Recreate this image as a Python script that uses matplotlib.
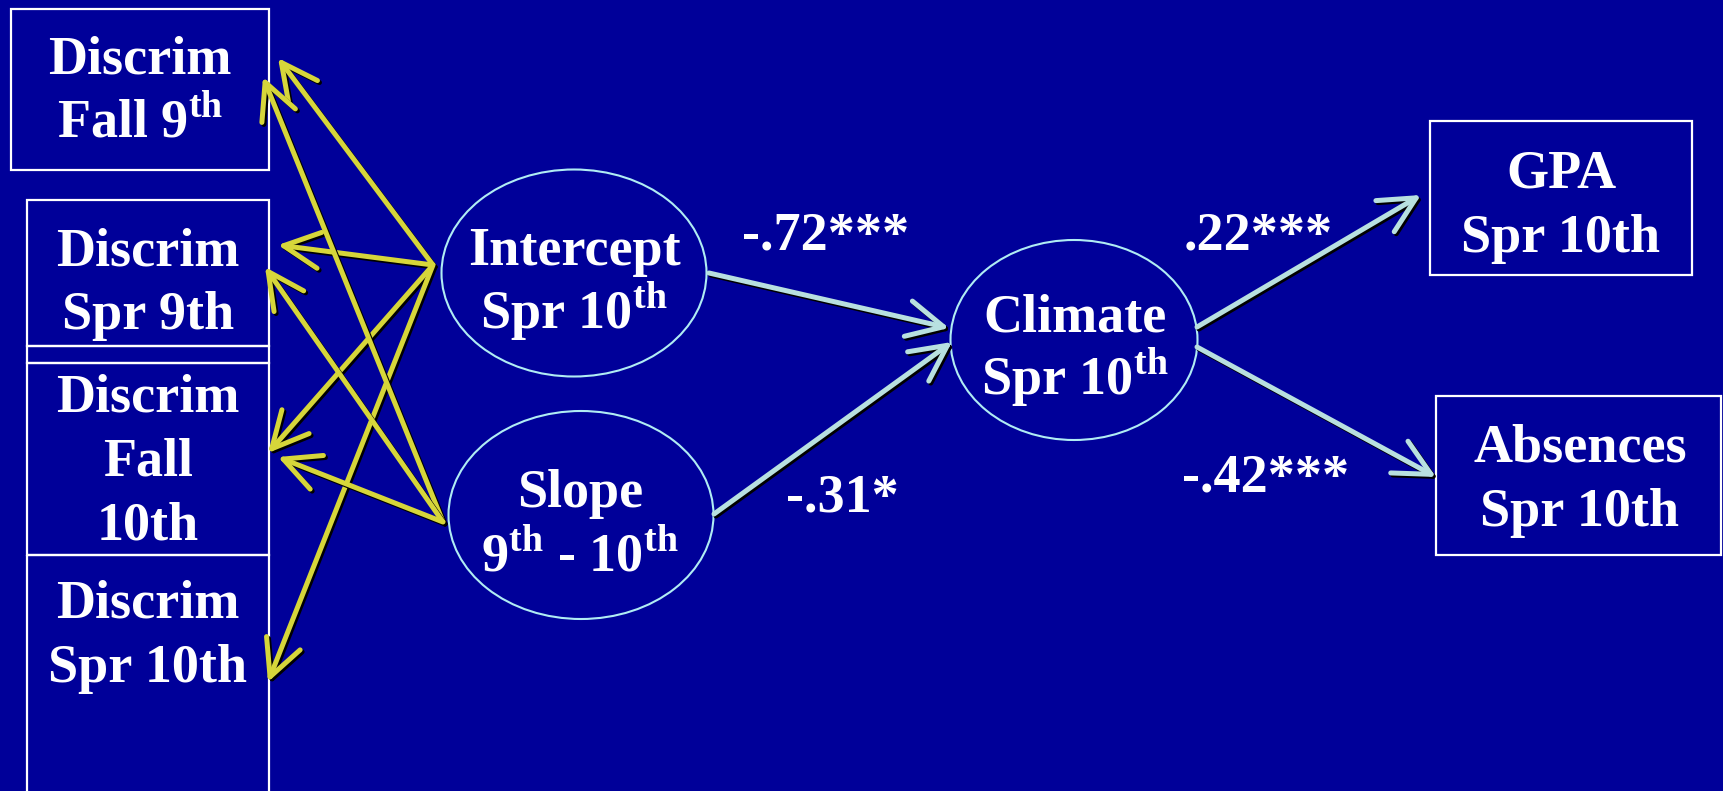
"""
plot.py

Path diagram: discrimination growth -> school climate -> outcomes.
"""

import matplotlib
matplotlib.use("Agg")
import matplotlib.pyplot as plt
from matplotlib.patches import Ellipse, Rectangle, FancyArrowPatch


# ---- diagram content ----
left_labels = ["Discrim\nFall 9$^{\\mathrm{th}}$",
               "Discrim\nSpr 9th",
               "Discrim\nFall\n10th",
               "Discrim\nSpr 10th"]
latent_labels = ["Intercept\nSpr 10$^{\\mathrm{th}}$",
                 "Slope\n9$^{\\mathrm{th}}$ - 10$^{\\mathrm{th}}$",
                 "Climate\nSpr 10$^{\\mathrm{th}}$"]
outcome_labels = ["GPA\nSpr 10th", "Absences\nSpr 10th"]
coef_labels = ["-.72***", "-.31*", ".22***", "-.42***"]

# ---- layout (pixels, y down) ----
W, H = 1723, 791
BG = "#000099"
YELLOW = "#d6d63a"
CYAN = "#b8e0e0"
FONT = "Liberation Serif"
FS = 39
LINE_H = 64

left_boxes = [(11, 9, 269, 170), (27, 200, 269, 346),
              (27, 363, 269, 555), (27, 555, 269, 810)]
strip_box = (27, 346, 269, 363)
left_text_pos = [(140, 55), (148, 247), (148, 394), (148, 600)]

ellipses = [(574, 273, 265, 207), (581, 515, 265, 208), (1074, 340, 247, 200)]
latent_text_pos = [(574, 247), (580, 489), (1075, 313)]

outcome_boxes = [(1430, 121, 1692, 275), (1436, 396, 1721, 555)]
outcome_text_pos = [(1561, 170), (1580, 444)]

coef_pos = [(826, 232), (842, 493), (1258, 232), (1266, 474)]

# covariances (node anchor -> arrow tip on box)
yellow_edges = [((433, 265), (278, 58)), ((433, 265), (278, 245)),
                ((433, 265), (268, 453)), ((433, 265), (268, 682)),
                ((443, 522), (263, 77)), ((443, 522), (265, 267)),
                ((443, 522), (278, 457))]
cyan_edges = [((709, 273), (949, 328)), ((714, 514), (952, 342)),
              ((1197, 327), (1421, 195)), ((1197, 347), (1436, 477))]


def draw_text_lines(ax, label, x, y_center):
    # one text per line, first line's visual centre at y_center
    for i, line in enumerate(label.split("\n")):
        ax.text(x, y_center + i * LINE_H + 18, line, color="white",
                fontsize=FS, fontfamily=FONT, fontweight="bold",
                ha="center", va="baseline")


def arrow(ax, start, end, color):
    style = "->,head_length=26,head_width=13"
    s = (start[0] + 2, start[1] + 2)
    e = (end[0] + 2, end[1] + 2)
    for a, b, c in [(s, e, "black"), (start, end, color)]:
        ax.add_patch(FancyArrowPatch(a, b, arrowstyle=style, color=c,
                                     lw=3.6, mutation_scale=1,
                                     shrinkA=0, shrinkB=0, capstyle="round",
                                     joinstyle="round"))


def rect(ax, box, color="white", lw=1.6):
    x0, y0, x1, y1 = box
    ax.add_patch(Rectangle((x0, y0), x1 - x0, y1 - y0, fill=False,
                           edgecolor=color, lw=lw))


def main():
    plt.rcParams["mathtext.fontset"] = "custom"
    plt.rcParams["mathtext.rm"] = "Liberation Serif:bold"
    plt.rcParams["mathtext.bf"] = "Liberation Serif:bold"

    fig = plt.figure(figsize=(W / 100, H / 100), dpi=100, facecolor=BG)
    ax = fig.add_axes([0, 0, 1, 1])
    ax.set_facecolor(BG)
    ax.set_xlim(0, W)
    ax.set_ylim(H, 0)
    ax.axis("off")

    for box in left_boxes:
        rect(ax, box)
    rect(ax, strip_box)
    for box in outcome_boxes:
        rect(ax, box)

    for cx, cy, w, h in ellipses:
        ax.add_patch(Ellipse((cx, cy), w, h, fill=False,
                             edgecolor="#b0ecf4", lw=1.5))

    for start, end in yellow_edges:
        arrow(ax, start, end, YELLOW)
    for start, end in cyan_edges:
        arrow(ax, start, end, CYAN)

    for label, (x, y) in zip(left_labels, left_text_pos):
        draw_text_lines(ax, label, x, y)
    for label, (x, y) in zip(latent_labels, latent_text_pos):
        draw_text_lines(ax, label, x, y)
    for label, (x, y) in zip(outcome_labels, outcome_text_pos):
        draw_text_lines(ax, label, x, y)
    for label, (x, y) in zip(coef_labels, coef_pos):
        draw_text_lines(ax, label, x, y)

    fig.savefig("out.png", dpi=100, facecolor=BG)
    plt.close(fig)


if __name__ == "__main__":
    main()
